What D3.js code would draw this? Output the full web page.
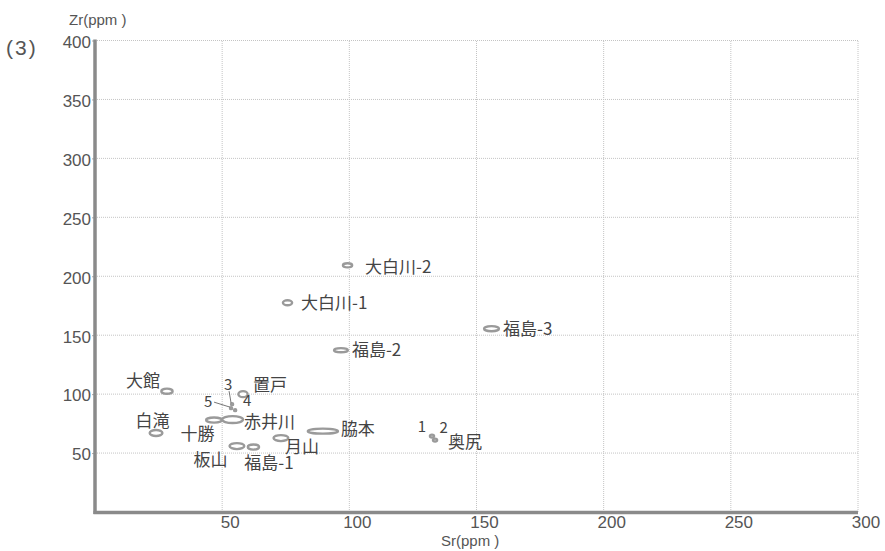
<!DOCTYPE html>
<html>
<head>
<meta charset="utf-8">
<script src="https://cdn.jsdelivr.net/npm/d3@7"></script>
<style>
  body { margin: 0; background: #fff; }
  svg { display: block; }
</style>
</head>
<body>
<script>
// Sr-Zr plot (3)
var w = 885;
var h = 551;

// sample names, Sr / Zr centres (ppm), and spread of each ellipse (ppm, half width)
var names    = ["大白川-2", "大白川-1", "福島-2", "福島-3", "大館", "置戸", "白滝", "十勝", "赤井川", "板山", "福島-1", "月山", "脇本", "1", "2", "3", "4", "5"];
var srValues = [99.3, 75.7, 96.7, 155.9, 28.3, 58.2, 24.0, 46.8, 54.1, 55.8, 62.3, 73.1, 89.6, 132.5, 133.7, 53.9, 55.1, 53.5];
var zrValues = [209.3, 177.5, 137.3, 155.5, 102.5, 100.0, 67.0, 78.0, 78.4, 55.9, 55.1, 62.7, 68.6, 64.4, 61.0, 91.5, 86.4, 88.1];
var srSpread = [2.2, 2.2, 3.1, 3.3, 2.6, 2.2, 2.9, 3.5, 4.5, 3.3, 2.6, 3.3, 6.3, 1.2, 1.2, 0.8, 0.8, 0.8];
var zrSpread = [2.6, 3.0, 2.6, 3.0, 3.0, 3.4, 3.4, 3.0, 3.8, 3.4, 3.0, 3.4, 3.0, 2.1, 2.1, 1.3, 1.3, 1.3];

// axis ticks
var xTicks = [50, 100, 150, 200, 250, 300];
var yTicks = [50, 100, 150, 200, 250, 300, 350, 400];

// label placement relative to the ellipse (pixels) -- layout only
var labelDx     = [17.5, 13.5, 11, 11.5, -7, 10, -3.5, -16.5, 11.5, -26.5, 15.5, 4, 18, -10, 8.5, -4, 12, -23];
var labelDy     = [2, 0.5, 0, 0, -10, -9, -12, 14, 2.5, 14, 16, 9, -2, -9.5, -12, -19, -9.5, -6];
var labelAnchor = ["start", "start", "start", "start", "end", "start", "middle", "middle", "start", "middle", "middle", "start", "start", "middle", "middle", "middle", "middle", "middle"];

var x = d3.scaleLinear().domain([0, 300]).range([95, 858]);
var y = d3.scaleLinear().domain([0, 400]).range([512, 40.5]);

var svg = d3.select("body")
        .append("svg")
        .attr("width", w)
        .attr("height", h);

var numFont = "'Liberation Sans', Arial, sans-serif";
var cjkFont = "'Noto Sans CJK JP', sans-serif";

//gridlines (dotted)
svg.append("g").selectAll("line")
    .data(yTicks)
    .enter()
    .append("line")
    .attr("x1", x(0)).attr("x2", x(300))
    .attr("y1", function(d) { return y(d); })
    .attr("y2", function(d) { return y(d); })
    .attr("stroke", "#c4c4c4")
    .attr("stroke-dasharray", "1,1");

svg.append("g").selectAll("line")
    .data(xTicks)
    .enter()
    .append("line")
    .attr("y1", y(0)).attr("y2", y(400))
    .attr("x1", function(d) { return x(d); })
    .attr("x2", function(d) { return x(d); })
    .attr("stroke", "#c4c4c4")
    .attr("stroke-dasharray", "1,1");

//tick labels via d3 axes
var yAxis = svg.append("g")
    .attr("transform", "translate(" + x(0) + ",0)")
    .call(d3.axisLeft(y).tickValues(yTicks).tickSize(3).tickPadding(1));
var xAxis = svg.append("g")
    .attr("transform", "translate(0," + y(0) + ")")
    .call(d3.axisBottom(x).tickValues(xTicks).tickSize(0).tickPadding(3));

[yAxis, xAxis].forEach(function(a) {
    a.select(".domain").remove();
    a.selectAll("line").attr("stroke", "#aaa");
    a.selectAll("text")
        .attr("fill", "#555")
        .style("font-family", numFont)
        .style("font-size", "17px");
});
yAxis.selectAll("text").attr("dy", "0.4em");
xAxis.selectAll("text").attr("dx", 7.5).attr("dy", "0.78em");

//thick axis lines
svg.append("line")
    .attr("x1", x(0)).attr("x2", x(0))
    .attr("y1", y(400) - 1).attr("y2", y(0) + 2)
    .attr("stroke", "#8a8a8a").attr("stroke-width", 3.5);
svg.append("line")
    .attr("x1", x(0) - 1.5).attr("x2", x(300))
    .attr("y1", y(0) + 0.5).attr("y2", y(0) + 0.5)
    .attr("stroke", "#8a8a8a").attr("stroke-width", 3.5);

//axis titles
svg.append("text")
    .attr("x", 69).attr("y", 25)
    .attr("fill", "#555")
    .style("font-family", numFont)
    .style("font-size", "15px")
    .text("Zr(ppm )");

svg.append("text")
    .attr("x", 441).attr("y", 546)
    .attr("fill", "#555")
    .style("font-family", numFont)
    .style("font-size", "15px")
    .text("Sr(ppm )");

svg.append("text")
    .attr("x", 6).attr("y", 55)
    .attr("fill", "#555")
    .style("font-family", numFont)
    .style("font-size", "21px")
    .style("letter-spacing", "2px")
    .text("(3)");

//ellipses
var idx = d3.range(names.length);

svg.append("g").selectAll("ellipse")
    .data(idx)
    .enter()
    .append("ellipse")
    .attr("cx", function(i) { return x(srValues[i]); })
    .attr("cy", function(i) { return y(zrValues[i]); })
    .attr("rx", function(i) { return Math.max(x(srSpread[i]) - x(0) - 1, 1); })
    .attr("ry", function(i) { return Math.max(y(0) - y(zrSpread[i]) - 1, 1); })
    .attr("fill", "#fff")
    .attr("stroke", "#9a9a9a")
    .attr("stroke-width", 2.4);

//leader lines for small samples 3 and 5
var leaders = [15, 17];
svg.append("g").selectAll("line")
    .data(leaders)
    .enter()
    .append("line")
    .attr("x1", function(i) { return x(srValues[i]) + labelDx[i] + (i == 17 ? 6 : 1); })
    .attr("y1", function(i) { return y(zrValues[i]) + labelDy[i] + (i == 17 ? 0 : 6); })
    .attr("x2", function(i) { return x(srValues[i]) - 1; })
    .attr("y2", function(i) { return y(zrValues[i]) - 1; })
    .attr("stroke", "#777")
    .attr("stroke-width", 1);

//labels
svg.append("g").selectAll("text")
    .data(idx)
    .enter()
    .append("text")
    .attr("x", function(i) { return x(srValues[i]) + labelDx[i]; })
    .attr("y", function(i) { return y(zrValues[i]) + labelDy[i]; })
    .attr("dy", "0.35em")
    .attr("text-anchor", function(i) { return labelAnchor[i]; })
    .attr("fill", "#444")
    .style("font-family", cjkFont)
    .style("font-size", function(i) { return names[i].length == 1 ? "15px" : "17px"; })
    .text(function(i) { return names[i]; });

//locality label for samples 1 and 2
svg.append("text")
    .attr("x", x(srValues[14]) + 13)
    .attr("y", y(zrValues[14]) + 2)
    .attr("dy", "0.35em")
    .attr("fill", "#444")
    .style("font-family", cjkFont)
    .style("font-size", "17px")
    .text("奥尻");
</script>
</body>
</html>
